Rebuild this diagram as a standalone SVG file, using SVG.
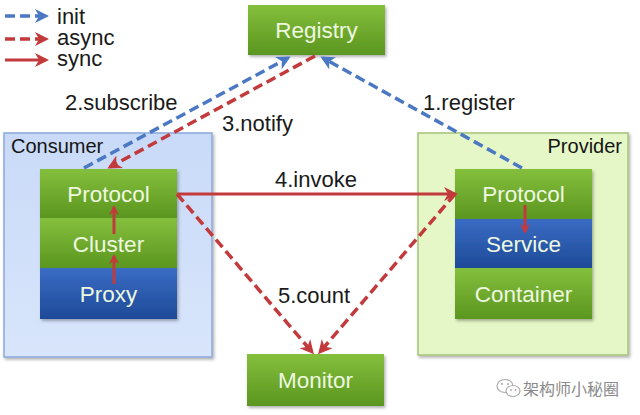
<svg xmlns="http://www.w3.org/2000/svg" width="640" height="415" viewBox="0 0 640 415">
<style>
text{font-family:"Liberation Sans",Arial,sans-serif}
.lbl{font-size:22px;fill:#1a1a1a}
.lg{font-size:22px;fill:#1a1a1a}
.nt{font-size:22.5px;fill:#eef8e0;text-anchor:middle}
.ct{font-size:20px;fill:#151515}
.init{stroke:#4a78c2;stroke-width:3.5;fill:none;stroke-dasharray:10 5}
.async{stroke:#c23a3c;stroke-width:3.5;fill:none;stroke-dasharray:10 5}
.sync{stroke:#c23a3c;stroke-width:3;fill:none}
</style>
<defs>
<linearGradient id="gG" x1="0" y1="0" x2="0" y2="1"><stop offset="0" stop-color="#84bf3c"/><stop offset="1" stop-color="#5b9620"/></linearGradient>
<linearGradient id="gB" x1="0" y1="0" x2="0" y2="1"><stop offset="0" stop-color="#3a6cc4"/><stop offset="1" stop-color="#1e4a98"/></linearGradient>
<linearGradient id="gC" x1="0" y1="0" x2="0" y2="1"><stop offset="0" stop-color="#c9daf8"/><stop offset="1" stop-color="#d8e5fb"/></linearGradient>
<filter id="sh" x="-10%" y="-10%" width="130%" height="130%"><feDropShadow dx="1.5" dy="2" stdDeviation="1.5" flood-color="#000" flood-opacity="0.3"/></filter>
<marker id="mB" markerUnits="userSpaceOnUse" markerWidth="16" markerHeight="16" refX="11" refY="7" orient="auto"><path d="M0,0 L14,7 L0,14 L4,7 z" fill="#4a78c2"/></marker>
<marker id="mR" markerUnits="userSpaceOnUse" markerWidth="16" markerHeight="16" refX="11" refY="7" orient="auto"><path d="M0,0 L14,7 L0,14 L4,7 z" fill="#c23a3c"/></marker>
<marker id="mRs" markerUnits="userSpaceOnUse" markerWidth="12" markerHeight="12" refX="8" refY="5" orient="auto"><path d="M0,0 L10,5 L0,10 L3,5 z" fill="#c23a3c"/></marker>
</defs>
<rect width="640" height="415" fill="#ffffff"/>

<g id="legend">
<line class="init" x1="5" y1="16" x2="46" y2="16" marker-end="url(#mB)"/>
<line class="async" x1="5" y1="39" x2="46" y2="39" marker-end="url(#mR)"/>
<line class="sync" x1="5" y1="60" x2="46" y2="60" stroke-width="3.5" marker-end="url(#mR)"/>
<text class="lg" x="57" y="24">init</text>
<text class="lg" x="57" y="45">async</text>
<text class="lg" x="57" y="66">sync</text>
</g>

<g id="registry">
<rect x="248" y="5" width="137" height="50" fill="url(#gG)" filter="url(#sh)"/>
<text class="nt" x="316.5" y="38">Registry</text>
</g>

<g id="consumer">
<rect x="4" y="133" width="208" height="224" fill="url(#gC)" stroke="#8aa8dc" stroke-width="1.5" filter="url(#sh)"/>
<text class="ct" x="11" y="153">Consumer</text>
<g filter="url(#sh)">
<rect x="40" y="169" width="137" height="49" fill="url(#gG)"/>
<rect x="40" y="218" width="137" height="50" fill="url(#gG)"/>
<rect x="40" y="268" width="137" height="51" fill="url(#gB)"/>
</g>
<text class="nt" x="108.5" y="202">Protocol</text>
<text class="nt" x="108.5" y="252">Cluster</text>
<text class="nt" x="108.5" y="302">Proxy</text>
</g>

<g id="provider">
<rect x="418" y="133" width="210" height="222" fill="#e5f7c6" stroke="#a6c27a" stroke-width="1.5" filter="url(#sh)"/>
<text class="ct" x="622" y="153" text-anchor="end">Provider</text>
<g filter="url(#sh)">
<rect x="455" y="169" width="137" height="50" fill="url(#gG)"/>
<rect x="455" y="219" width="137" height="49" fill="url(#gB)"/>
<rect x="455" y="268" width="137" height="51" fill="url(#gG)"/>
</g>
<text class="nt" x="523.5" y="202">Protocol</text>
<text class="nt" x="523.5" y="252">Service</text>
<text class="nt" x="523.5" y="302">Container</text>
</g>

<g id="monitor">
<rect x="247" y="354" width="137" height="52" fill="url(#gG)" filter="url(#sh)"/>
<text class="nt" x="315.5" y="388">Monitor</text>
</g>

<g id="connectors">
<line class="init" x1="84" y1="168" x2="288" y2="58" marker-end="url(#mB)"/>
<line class="async" x1="315" y1="56" x2="110" y2="167" marker-end="url(#mR)"/>
<line class="init" x1="522" y1="168" x2="323" y2="58" marker-end="url(#mB)"/>
<line class="sync" x1="177" y1="194" x2="455" y2="194" marker-end="url(#mR)"/>
<line class="async" x1="177" y1="194" x2="312" y2="352" marker-end="url(#mR)"/>
<line class="async" x1="455" y1="194" x2="320" y2="352" marker-end="url(#mR)"/>
<line class="sync" x1="114" y1="284" x2="114" y2="256" marker-end="url(#mRs)"/>
<line class="sync" x1="114" y1="234" x2="114" y2="207" marker-end="url(#mRs)"/>
<line class="sync" x1="525" y1="205" x2="525" y2="232" marker-end="url(#mRs)"/>
<text class="lbl" x="65" y="110">2.subscribe</text>
<text class="lbl" x="222" y="131">3.notify</text>
<text class="lbl" x="423" y="110">1.register</text>
<text class="lbl" x="275" y="187">4.invoke</text>
<text class="lbl" x="278" y="303">5.count</text>
</g>

<g id="watermark">
<ellipse cx="505" cy="386" rx="8" ry="6.5" fill="none" stroke="#aaaaaa" stroke-width="1.2"/>
<ellipse cx="513" cy="391" rx="7" ry="5.5" fill="#ffffff" stroke="#aaaaaa" stroke-width="1.2"/>
<circle cx="502" cy="384" r="1" fill="#aaaaaa"/>
<circle cx="508" cy="384" r="1" fill="#aaaaaa"/>
<circle cx="511" cy="390" r="0.9" fill="#aaaaaa"/>
<circle cx="515.5" cy="390" r="0.9" fill="#aaaaaa"/>
<text x="523" y="395" style="font-size:16px;font-family:'Liberation Sans','Noto Sans CJK SC',sans-serif" fill="#8a8a8a">架构师小秘圈</text>
</g>
</svg>
